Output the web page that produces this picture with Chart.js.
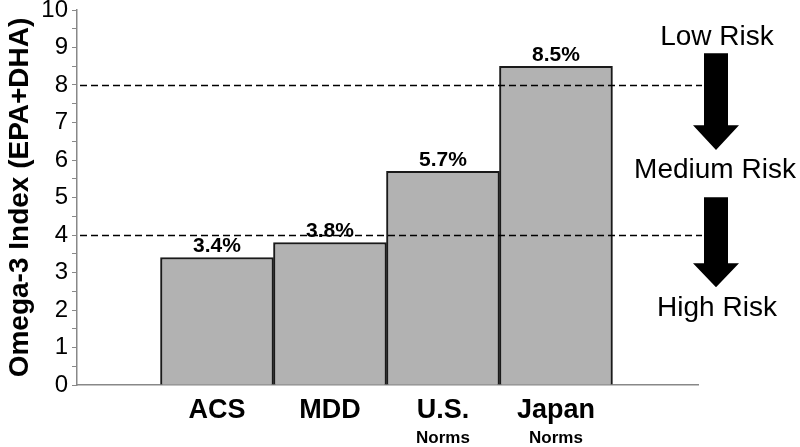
<!DOCTYPE html>
<html>
<head>
<meta charset="utf-8">
<script src="https://cdn.jsdelivr.net/npm/chart.js@4"></script>
<style>
  html, body { margin: 0; padding: 0; background: #fff; }
  #wrap { width: 800px; height: 447px; position: relative; }
</style>
</head>
<body>
<div id="wrap"><canvas id="c" width="800" height="447"></canvas></div>
<script>
const categories = ['ACS', 'MDD', 'U.S.', 'Japan'];
const subLabels = ['', '', 'Norms', 'Norms'];
const values = [3.4, 3.8, 5.7, 8.5];
const valueLabels = ['3.4%', '3.8%', '5.7%', '8.5%'];
const thresholds = [4, 8];
const yTickValues = [0, 1, 2, 3, 4, 5, 6, 7, 8, 9, 10];
const riskLabels = ['Low Risk', 'Medium Risk', 'High Risk'];
const riskLabelValues = [9.28, 5.73, 2.05];
// arrows: [shaftTop, headBase, tip] in y-axis units
const arrows = [[8.85, 6.93, 6.27], [5.01, 3.25, 2.61]];

const positions = categories.map((c, i) => i + 1);
const FONT = "'Liberation Sans', Arial, sans-serif";

const overlay = {
  id: 'overlay',
  afterDatasetsDraw(chart) {
    const ctx = chart.ctx;
    const y = chart.scales.y;
    const area = chart.chartArea;
    const meta = chart.getDatasetMeta(0);
    ctx.save();
    ctx.fillStyle = '#000';
    ctx.font = 'bold 21px ' + FONT;
    ctx.textAlign = 'center';
    ctx.textBaseline = 'bottom';
    meta.data.forEach((bar, i) => {
      ctx.fillText(valueLabels[i], bar.x, bar.y - 1);
    });
    ctx.strokeStyle = '#000';
    ctx.lineWidth = 1.5;
    ctx.setLineDash([7, 4]);
    thresholds.forEach(t => {
      const py = Math.round(y.getPixelForValue(t)) + 0.5;
      ctx.beginPath();
      ctx.moveTo(area.left + 3, py);
      ctx.lineTo(area.right + 4, py);
      ctx.stroke();
    });
    ctx.setLineDash([]);
    const cx = area.right + 18;
    ctx.font = '28px ' + FONT;
    ctx.textBaseline = 'middle';
    riskLabels.forEach((t, i) => {
      ctx.fillText(t, cx + (i === 1 ? -1 : 1), y.getPixelForValue(riskLabelValues[i]));
    });
    ctx.fillStyle = '#000';
    arrows.forEach(a => {
      const top = y.getPixelForValue(a[0]);
      const base = y.getPixelForValue(a[1]);
      const tip = y.getPixelForValue(a[2]);
      ctx.beginPath();
      ctx.moveTo(cx - 12, top);
      ctx.lineTo(cx + 12, top);
      ctx.lineTo(cx + 12, base);
      ctx.lineTo(cx + 23, base);
      ctx.lineTo(cx, tip);
      ctx.lineTo(cx - 23, base);
      ctx.lineTo(cx - 12, base);
      ctx.closePath();
      ctx.fill();
    });
    ctx.restore();
  }
};

new Chart(document.getElementById('c'), {
  type: 'bar',
  data: {
    datasets: [{
      data: values.map((v, i) => ({ x: positions[i], y: v })),
      backgroundColor: '#b2b2b2',
      borderColor: '#1a1a1a',
      borderWidth: 2,
      barPercentage: 1,
      categoryPercentage: 1,
      xAxisID: 'x',
      yAxisID: 'y'
    }]
  },
  options: {
    responsive: false,
    animation: false,
    devicePixelRatio: 1,
    layout: { padding: { left: 0, right: 102, top: 10, bottom: 0 } },
    plugins: { legend: { display: false }, tooltip: { enabled: false } },
    scales: {
      x: {
        type: 'linear',
        position: 'bottom',
        offset: false,
        min: -0.239,
        max: 5.257,
        afterBuildTicks(s) { s.ticks = positions.map(v => ({ value: v })); },
        afterFit(s) { s.height = 42; s.paddingLeft = 0; s.paddingRight = 0; },
        grid: { display: true, drawOnChartArea: false, drawTicks: false },
        border: { display: true, color: '#888', width: 1.5 },
        ticks: {
          autoSkip: false, maxRotation: 0, padding: 9,
          color: '#000',
          font: { family: FONT, size: 27, weight: 'bold' },
          callback: (v) => categories[positions.indexOf(v)] ?? ''
        }
      },
      x2: {
        type: 'linear',
        position: 'bottom',
        offset: false,
        min: -0.239,
        max: 5.257,
        afterBuildTicks(s) { s.ticks = positions.map(v => ({ value: v })); },
        afterFit(s) { s.height = 20; s.paddingLeft = 0; s.paddingRight = 0; },
        grid: { display: false, drawTicks: false },
        border: { display: false },
        ticks: {
          autoSkip: false, maxRotation: 0, padding: 1,
          color: '#000',
          font: { family: FONT, size: 17, weight: 'bold' },
          callback: (v) => subLabels[positions.indexOf(v)] ?? ''
        }
      },
      y: {
        type: 'linear',
        position: 'left',
        min: 0,
        max: 10,
        afterBuildTicks(s) {
          const t = [];
          for (let i = 0; i <= 20; i++) t.push({ value: i / 2 });
          s.ticks = t;
        },
        afterFit(s) { s.width = 77; s.paddingTop = 0; s.paddingBottom = 0; },
        grid: { display: true, drawOnChartArea: false, drawTicks: true, tickLength: 5, color: '#888', lineWidth: 1 },
        border: { display: true, color: '#888', width: 1.5 },
        ticks: {
          autoSkip: false, padding: 4, color: '#000',
          font: { family: FONT, size: 24 },
          callback: (v) => yTickValues.includes(v) ? String(v) : ''
        },
        title: {
          display: true,
          text: 'Omega-3 Index (EPA+DHA)',
          color: '#000',
          font: { family: FONT, size: 28, weight: 'bold' },
          padding: { top: 3, bottom: 0 }
        }
      }
    }
  },
  plugins: [overlay]
});
</script>
</body>
</html>
